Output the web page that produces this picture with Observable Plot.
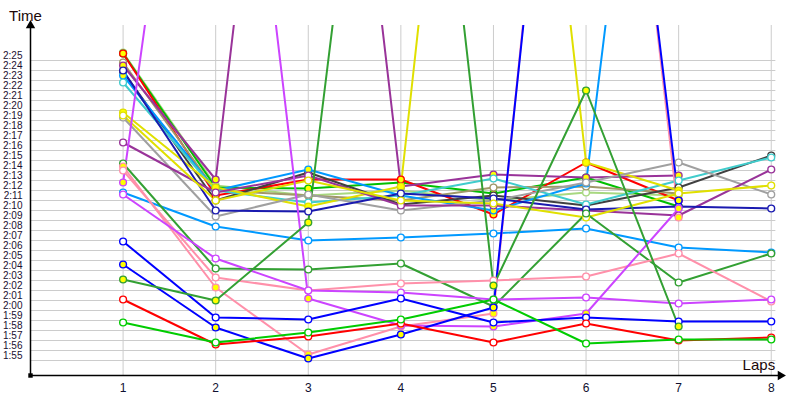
<!DOCTYPE html>
<html>
<head>
<meta charset="utf-8">
<script src="https://cdn.jsdelivr.net/npm/d3@7"></script>
<script src="https://cdn.jsdelivr.net/npm/@observablehq/plot@0.6"></script>
<style>
  html, body { margin: 0; padding: 0; background: #fff; }
</style>
</head>
<body>
<div id="chart"></div>
<script>
// ---- data (lap times in seconds) ----
const laps = [1, 2, 3, 4, 5, 6, 7, 8];
const yTicks = d3.range(115, 146); // 1:55 ... 2:25

const green      = [118.8, 116.8, 117.8, 119.1, 121.1, 116.7, 117.1, 117.1];
const red        = [121.1, 116.6, 117.4, 118.7, 116.8, 118.7, 117.0, 117.3];
const dkgreenY   = [123.1, 121.0, 128.8, 203.9, 122.5, 142.0, 118.4, null];
const blueY      = [124.6, 118.3, 115.2, 117.6, 120.3, 207.8, 131.0, null];
const blue       = [126.9, 119.3, 119.1, 121.2, 118.8, 119.3, 118.9, 118.9];
const magentaY   = [132.8, 199.5, 121.2, 118.5, 118.4, 119.7, 130.2, null];
const magenta    = [131.6, 125.2, 122.0, 121.8, 121.1, 121.3, 120.7, 121.1];
const pink       = [134.0, 123.3, 122.0, 122.7, 123.0, 123.4, 125.7, 120.9];
const pinkY      = [134.4, 122.3, 115.6, 118.4, 119.7, 210.4, 129.3, null];
const dkgreen    = [134.7, 124.2, 124.1, 124.7, 120.4, 129.7, 122.8, 125.7];
const lightblue  = [131.8, 128.4, 127.0, 127.3, 127.7, 128.2, 126.3, 125.8];

const lightgreen = [145.8, 132.5, 131.5, 132.0, 131.0, 131.8, 131.5, null];
const greenY     = [145.7, 132.3, 132.2, 132.8, 131.7, 133.3, 130.4, null];
const redY       = [145.7, 131.5, 133.1, 133.1, 129.6, 134.8, 131.0, null];
const khaki      = [144.8, 132.0, 131.5, 131.0, 132.3, 132.4, 131.7, null];
const purpleY    = [144.5, 133.1, 211.9, 132.4, 133.6, 133.3, 133.5, null];
const black      = [143.9, 131.0, 133.8, 130.6, 131.5, 130.5, 132.3, 135.5];
const lightblueY = [143.5, 132.0, 134.1, 131.5, 130.0, 132.7, 208.0, null];
const cyan       = [142.8, 132.0, 130.8, 131.5, 133.2, 130.6, 133.0, 135.3];
const yellowY    = [139.8, 132.3, 130.4, 132.4, 217.0, 134.8, 132.0, null];
const gray       = [139.3, 129.4, 131.6, 130.0, 131.0, 132.8, 134.8, 131.6];
const purple     = [136.8, 131.8, 133.5, 130.5, 130.5, 130.0, 129.5, 134.1];
const navy       = [144.0, 130.0, 129.9, 131.7, 131.2, 130.1, 130.4, 130.2];
const yellow     = [139.5, 131.0, 133.0, 131.0, 130.7, 129.3, 131.7, 132.5];

const seriesData = {
  lightgreen, greenY, redY, khaki, purpleY, black, lightblueY, cyan, yellowY,
  gray, purple, navy, yellow,
  lightblue, dkgreen, pinkY, pink, magenta, magentaY, blue, blueY, dkgreenY, red, green
};

// ---- styles ----
const strokeOf = {
  green: "#00cc00", red: "#ff0000", dkgreenY: "#33a033", blueY: "#0000ff", blue: "#0000ff",
  magentaY: "#cc44ff", magenta: "#cc44ff", pink: "#ff90aa", pinkY: "#ff90aa", dkgreen: "#33a033",
  lightblue: "#0099ff", lightgreen: "#a8d880", greenY: "#00c000", redY: "#ff0000", khaki: "#a09868",
  purpleY: "#993399", black: "#404040", lightblueY: "#0099ff", cyan: "#40cccc", yellowY: "#e0e000",
  gray: "#a0a0a0", purple: "#993399", navy: "#1a1ab0", yellow: "#e0e000"
};
const fillOf = name => name.endsWith("Y") ? "#ffff00" : "#ffffff";

const rows = [];
for (const [name, vals] of Object.entries(seriesData)) {
  vals.forEach((v, i) => rows.push({name, lap: laps[i], t: v == null ? NaN : v}));
}

const xMin = 0, xMax = 8.1, yMin = 113.5, yMax = 148.5;
const fmt = s => `${Math.floor(s / 60)}:${String(s % 60).padStart(2, "0")}`;

const chart = Plot.plot({
  width: 800,
  height: 400,
  marginLeft: 30,
  marginRight: 20,
  marginTop: 25,
  marginBottom: 25,
  x: {domain: [xMin, xMax]},
  y: {domain: [yMin, yMax]},
  style: {fontFamily: "'Liberation Sans', Arial, sans-serif", background: "#fff", overflow: "visible"},
  marks: [
    Plot.ruleY(yTicks, {stroke: "#cccccc", strokeWidth: 1, x1: xMin, x2: 8.05}),
    Plot.ruleX(laps, {stroke: "#cccccc", strokeWidth: 1, y1: yMin, y2: yMax}),
    Plot.axisY({ticks: yTicks, tickFormat: fmt, tickSize: 0, tickPadding: 8, dy: -5,
      fontSize: 10, fill: "#1a1030"}),
    Plot.axisX({ticks: laps, tickFormat: d => String(d), tickSize: 0, tickPadding: 8,
      fontSize: 12, fill: "#101030"}),
    Plot.line(rows, {
      x: "lap", y: "t", z: "name", stroke: d => strokeOf[d.name], strokeWidth: 2,
      clip: true, curve: "linear"
    }),
    Plot.dot(rows.filter(d => d.t <= yMax), {
      x: "lap", y: "t", r: 3.4, stroke: d => strokeOf[d.name], fill: d => fillOf(d.name),
      strokeWidth: 1.4
    }),
    // axes with arrows
    Plot.ruleX([xMin], {y1: yMin, y2: yMax, stroke: "#000", strokeWidth: 1.5}),
    Plot.ruleY([yMin], {x1: xMin, x2: xMax, stroke: "#000", strokeWidth: 1.5}),
    Plot.dot([{x: xMin, y: yMax}], {x: "x", y: "y", symbol: "triangle", r: 3.5, fill: "#000", stroke: "none"}),
    Plot.dot([{x: xMax, y: yMin}], {x: "x", y: "y", symbol: "triangle", r: 3.5, fill: "#000", stroke: "none", rotate: 90}),
    Plot.dot([{x: xMin, y: yMin}], {x: "x", y: "y", symbol: "square", r: 2.5, fill: "#000", stroke: "none"}),
    Plot.text(["Time"], {x: xMin, y: yMax, dy: -9, dx: -5, textAnchor: "middle", fontSize: 15, fill: "#200808"}),
    Plot.text(["Laps"], {x: 8.05, y: yMin, dy: -10, dx: -17, textAnchor: "middle", fontSize: 15, fill: "#200808"})
  ]
});
document.getElementById("chart").appendChild(chart);
</script>
</body>
</html>
